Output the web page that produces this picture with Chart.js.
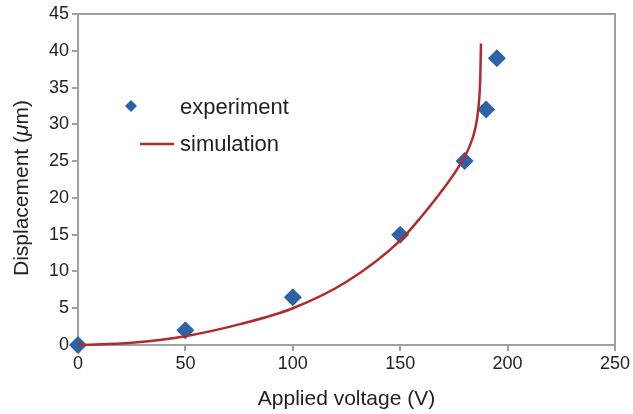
<!DOCTYPE html>
<html>
<head>
<meta charset="utf-8">
<script src="https://cdn.jsdelivr.net/npm/chart.js@4/dist/chart.umd.min.js"></script>
<style>
    html, body { margin: 0; padding: 0; background: #fff; }
    #wrap { width: 633px; height: 414px; }
</style>
</head>
<body>
<div id="wrap"><canvas id="chart" width="633" height="414"></canvas></div>
<script>
// Measured points (experiment)
const expVoltage = [0, 50, 100, 150, 180, 190, 195];
const expDisp = [0, 2, 6.5, 15, 25, 32, 39];

// Simulated curve
const simVoltage = [0, 25, 50, 75, 100, 125, 150, 160, 170, 178, 182, 185, 186.5, 187.3, 187.6];
const simDisp = [0, 0.3, 1.2, 2.8, 5.0, 8.6, 14.2, 17.5, 21.2, 24.6, 26.8, 29.5, 32.5, 36.5, 41];

const xTicks = [0, 50, 100, 150, 200, 250];
const yTicks = [0, 5, 10, 15, 20, 25, 30, 35, 40, 45];

const blue = '#2e62a6';
const red = '#b02a2e';
const axisGray = '#a0a0a0';
const textColor = '#222';
const fontFamily = '"Liberation Sans", Arial, sans-serif';

function toPoints(xs, ys) {
    return xs.map((x, i) => ({ x: x, y: ys[i] }));
}

// Frame round the plot (top and right edges)
const framePlugin = {
    id: 'frame',
    beforeDatasetsDraw(chart) {
        const { ctx, chartArea } = chart;
        ctx.save();
        ctx.strokeStyle = axisGray;
        ctx.lineWidth = 2;
        ctx.beginPath();
        ctx.moveTo(chartArea.left, chartArea.top);
        ctx.lineTo(chartArea.right, chartArea.top);
        ctx.lineTo(chartArea.right, chartArea.bottom);
        ctx.stroke();
        ctx.restore();
    }
};

// Legend inside the plot area
const innerLegend = {
    id: 'innerLegend',
    afterDraw(chart) {
        const { ctx } = chart;
        ctx.save();
        ctx.font = '22px ' + fontFamily;
        ctx.textBaseline = 'middle';
        // experiment
        ctx.fillStyle = blue;
        ctx.beginPath();
        ctx.moveTo(131, 100);
        ctx.lineTo(137, 106);
        ctx.lineTo(131, 112);
        ctx.lineTo(125, 106);
        ctx.closePath();
        ctx.fill();
        ctx.fillStyle = textColor;
        ctx.fillText(chart.data.datasets[0].label, 180, 108);
        // simulation
        ctx.strokeStyle = red;
        ctx.lineWidth = 2.5;
        ctx.beginPath();
        ctx.moveTo(140, 144);
        ctx.lineTo(174, 144);
        ctx.stroke();
        ctx.fillText(chart.data.datasets[1].label, 180, 145);
        ctx.restore();
    }
};

// Y axis title with italic mu
const yTitle = {
    id: 'yTitle',
    afterDraw(chart) {
        const { ctx } = chart;
        const parts = [
            { t: 'Displacement (', f: '21px ' + fontFamily },
            { t: 'μ', f: 'italic 21px ' + fontFamily },
            { t: 'm)', f: '21px ' + fontFamily }
        ];
        let total = 0;
        parts.forEach(p => { ctx.font = p.f; p.w = ctx.measureText(p.t).width; total += p.w; });
        ctx.save();
        ctx.translate(22, 188);
        ctx.rotate(-Math.PI / 2);
        ctx.fillStyle = textColor;
        ctx.textBaseline = 'middle';
        let x = -total / 2;
        parts.forEach(p => { ctx.font = p.f; ctx.fillText(p.t, x, 0); x += p.w; });
        ctx.restore();
    }
};

new Chart(document.getElementById('chart'), {
    type: 'scatter',
    data: {
        datasets: [
            {
                label: 'experiment',
                data: toPoints(expVoltage, expDisp),
                pointStyle: 'rectRot',
                pointRadius: 9,
                pointHoverRadius: 9,
                backgroundColor: blue,
                borderColor: blue,
                borderWidth: 0,
                showLine: false,
                clip: false,
                order: 1
            },
            {
                label: 'simulation',
                data: toPoints(simVoltage, simDisp),
                showLine: true,
                borderColor: red,
                borderWidth: 2.5,
                pointRadius: 0,
                cubicInterpolationMode: 'monotone',
                fill: false,
                clip: false,
                order: 0
            }
        ]
    },
    options: {
        responsive: false,
        animation: false,
        layout: { padding: { top: 14, right: 18, left: 0, bottom: 0 } },
        plugins: {
            legend: { display: false },
            tooltip: { enabled: false }
        },
        scales: {
            x: {
                type: 'linear',
                min: 0,
                max: 250,
                afterBuildTicks: scale => { scale.ticks = xTicks.map(v => ({ value: v })); },
                afterFit: scale => { scale.height = 69; },
                grid: { drawOnChartArea: false, drawTicks: true, tickLength: 6, color: axisGray, lineWidth: 2 },
                border: { color: axisGray, width: 2 },
                ticks: { color: textColor, font: { family: fontFamily, size: 18 }, padding: 2, maxRotation: 0 },
                title: { display: true, text: 'Applied voltage (V)', color: textColor, font: { family: fontFamily, size: 21 }, padding: { top: 4, bottom: 2 } }
            },
            y: {
                type: 'linear',
                min: 0,
                max: 45,
                afterBuildTicks: scale => { scale.ticks = yTicks.map(v => ({ value: v })); },
                afterFit: scale => { scale.width = 78; },
                grid: { drawOnChartArea: false, drawTicks: true, tickLength: 6, color: axisGray, lineWidth: 2 },
                border: { color: axisGray, width: 2 },
                ticks: { color: textColor, font: { family: fontFamily, size: 18 }, padding: 3 }
            }
        }
    },
    plugins: [framePlugin, innerLegend, yTitle]
});
</script>
</body>
</html>
